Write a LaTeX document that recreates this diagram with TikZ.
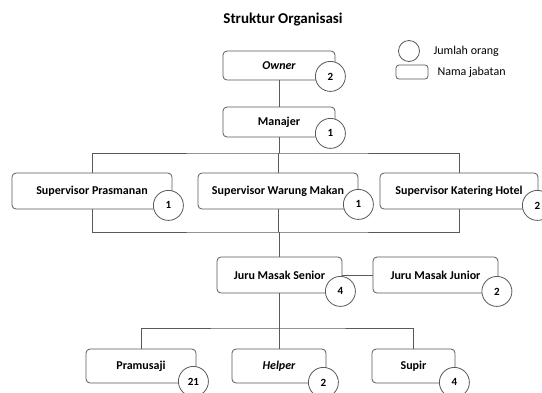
\documentclass[tikz,border=0pt]{standalone}
\usepackage{fontspec}
\setmainfont{Carlito}
\begin{document}
\begin{tikzpicture}[x=1pt,y=-1pt,
  line/.style={draw=black!65, line width=0.8pt},
  jab/.style={line, rounded corners=4pt, fill=white, font=\bfseries\fontsize{12}{14}\selectfont, inner sep=0pt, minimum height=36pt},
  jml/.style={line, circle, fill=white, minimum size=30pt, inner sep=0pt, font=\bfseries\fontsize{11}{13}\selectfont}]
\useasboundingbox (0,0) rectangle (542,392);
% title
\node[font=\bfseries\fontsize{15}{17}\selectfont] (title) at (283,20) {Struktur Organisasi};
% legend
\node[jml, minimum size=21pt] (lc) at (409,51) {};
\node[anchor=west, font=\fontsize{12}{14}\selectfont] (lct) at (430,51) {Jumlah orang};
\node[jab, minimum width=32pt, minimum height=14pt, rounded corners=3pt] (lr) at (412,72) {};
\node[anchor=west, font=\fontsize{12}{14}\selectfont] (lrt) at (434,72) {Nama jabatan};
% boxes
\node[jab, minimum width=112pt, minimum height=29pt] (own) at (279,65.5) {\itshape Owner};
\node[jab, minimum width=112pt, minimum height=30pt] (man) at (279,122) {Manajer};
\node[jab, minimum width=160pt] (sp) at (92,191) {Supervisor Prasmanan};
\node[jab, minimum width=160pt] (sw) at (278,191) {Supervisor Warung Makan};
\node[jab, minimum width=158pt] (sk) at (459,191) {Supervisor Katering Hotel};
\node[jab, minimum width=125pt] (jms) at (279.5,275) {Juru Masak Senior};
\node[jab, minimum width=125pt] (jmj) at (435.5,275) {Juru Masak Junior};
\node[jab, minimum width=110pt, minimum height=34pt] (pr) at (141,366) {Pramusaji};
\node[jab, minimum width=94pt, minimum height=34pt] (he) at (279,366) {\itshape Helper};
\node[jab, minimum width=83pt, minimum height=34pt] (su) at (413.5,366) {Supir};
% counts
\node[jml] (cown) at ([xshift=-5pt,yshift=4pt]own.south east) {2};
\node[jml] (cman) at ([xshift=-5pt,yshift=4pt]man.south east) {1};
\node[jml] (csp) at ([xshift=-4pt,yshift=4pt]sp.south east) {1};
\node[jml] (csw) at ([xshift=0pt,yshift=5pt]sw.south east) {1};
\node[jml] (csk) at ([xshift=-1pt,yshift=4pt]sk.south east) {2};
\node[jml] (cjms) at ([xshift=-2pt,yshift=2pt]jms.south east) {4};
\node[jml] (cjmj) at ([xshift=-1.5pt,yshift=2pt]jmj.south east) {2};
\node[jml] (cpr) at ([xshift=-3pt,yshift=2pt]pr.south east) {21};
\node[jml] (che) at ([xshift=-3pt,yshift=1pt]he.south east) {2};
\node[jml] (csu) at ([xshift=-1pt,yshift=1pt]su.south east) {4};
% connectors
\coordinate (bus1) at (279,153);
\coordinate (bus2) at (279,232);
\coordinate (bus3) at (279,328);
\draw[line] (own.south) -- (man.north);
\draw[line] (man.south) -- (bus1);
\draw[line] (sp.north) |- (bus1) -| (sk.north);
\draw[line] (sw.north) -- (sw.north |- bus1);
\draw[line] (sp.south) |- (bus2) -| (sk.south);
\draw[line] (sw.south) -- (sw.south |- bus2);
\draw[line] (bus2) -- (bus2 |- jms.north);
\draw[line] (jms.east) -- (jmj.west);
\draw[line] (jms.south -| bus3) -- (bus3);
\draw[line] (pr.north) |- (bus3) -| (su.north);
\draw[line] (he.north) -- (he.north |- bus3);
\end{tikzpicture}
\end{document}
